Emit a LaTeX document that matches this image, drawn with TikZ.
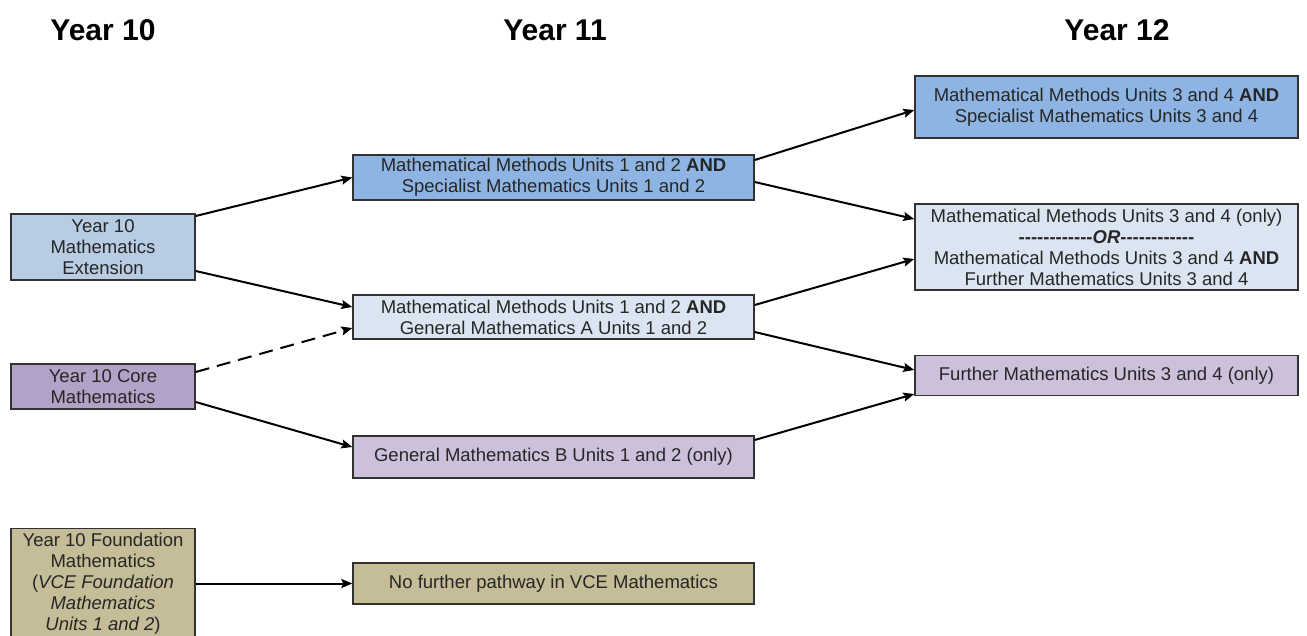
\documentclass[tikz,border=0pt]{standalone}
\usepackage{fontspec}
\setmainfont{Liberation Sans}
\usepackage{tikz}
\usetikzlibrary{positioning, arrows.meta}
\definecolor{MidBlue}{RGB}{141,180,226}
\definecolor{PaleBlue}{RGB}{184,204,228}
\definecolor{IceBlue}{RGB}{219,229,241}
\definecolor{CorePurple}{RGB}{179,162,199}
\definecolor{PaleLilac}{RGB}{204,192,218}
\definecolor{Khaki}{RGB}{196,189,151}
\definecolor{EdgeGray}{RGB}{50,50,50}
\tikzstyle{course} = [rectangle, draw=EdgeGray, line width=1.4pt, align=center, inner sep=0pt, text=black!85, font=\fontsize{18.5}{21}\selectfont]
\tikzstyle{leftbox} = [course, minimum width=184pt]
\tikzstyle{midbox} = [course, minimum width=401pt]
\tikzstyle{rightbox} = [course, minimum width=383pt]
\tikzstyle{yearhead} = [font=\fontsize{30}{36}\selectfont\bfseries]
\tikzstyle{arrow} = [line width=2pt, -{Stealth[length=11pt, width=9pt, inset=2pt]}]
\newcommand{\dashrun}{-{}-{}-{}-{}-{}-{}-{}-{}-{}-{}-{}-}

\begin{document}
\begin{tikzpicture}[x=1pt, y=-1pt]
    \clip (0,0) rectangle (1307,635);
    \fill[white] (0,0) rectangle (1307,635);

    % column headings
    \node[yearhead] (y10) at (103,30) {Year 10};
    \node[yearhead] (y11) at (555,30) {Year 11};
    \node[yearhead] (y12) at (1117,30) {Year 12};

    % Year 10
    \node[leftbox, fill=PaleBlue, minimum height=66pt] (ext) at (103,247) {Year 10\\Mathematics\\Extension};
    \node[leftbox, fill=CorePurple, minimum height=45pt] (core) at (103,386.5) {Year 10 Core\\Mathematics};
    \node[leftbox, fill=Khaki, minimum height=110pt] (found) at (103,583.5) {Year 10 Foundation\\Mathematics\\(\textit{VCE Foundation}\\\textit{Mathematics}\\\textit{Units 1 and 2})};

    % Year 11
    \node[midbox, fill=MidBlue, minimum height=45pt] (mmsm) at (553.5,177.5) {Mathematical Methods Units 1 and 2 \textbf{AND}\\Specialist Mathematics Units 1 and 2};
    \node[midbox, fill=IceBlue, minimum height=44pt] (mmga) at (553.5,317) {Mathematical Methods Units 1 and 2 \textbf{AND}\\General Mathematics A Units 1 and 2};
    \node[midbox, fill=PaleLilac, minimum height=42pt] (genb) at (553.5,457) {General Mathematics B Units 1 and 2 (only)};
    \node[midbox, fill=Khaki, minimum height=41pt] (nofurther) at (553.5,583.5) {No further pathway in VCE Mathematics};

    % Year 12
    \node[rightbox, fill=MidBlue, minimum height=62pt] (mmss) at (1106.5,107) {Mathematical Methods Units 3 and 4 \textbf{AND}\\Specialist Mathematics Units 3 and 4};
    \node[rightbox, fill=IceBlue, minimum height=86pt] (mmor) at (1106.5,247) {Mathematical Methods Units 3 and 4 (only)\\\textbf{\dashrun\textit{OR}\dashrun}\\Mathematical Methods Units 3 and 4 \textbf{AND}\\Further Mathematics Units 3 and 4};
    \node[rightbox, fill=PaleLilac, minimum height=40pt] (fmonly) at (1106.5,375.5) {Further Mathematics Units 3 and 4 (only)};

    % pathways
    \draw[arrow] ([yshift=31pt]ext.east) -- (mmsm.west);
    \draw[arrow] ([yshift=-24pt]ext.east) -- ([yshift=10pt]mmga.west);
    \draw[arrow, dash pattern=on 14pt off 8pt] ([yshift=14.5pt]core.east) -- ([yshift=-11pt]mmga.west);
    \draw[arrow] ([yshift=-15.5pt]core.east) -- ([yshift=10pt]genb.west);
    \draw[arrow] (found.east) -- (nofurther.west);
    \draw[arrow] ([yshift=17.5pt]mmsm.east) -- ([yshift=-3pt]mmss.west);
    \draw[arrow] ([yshift=-4.5pt]mmsm.east) -- ([yshift=28pt]mmor.west);
    \draw[arrow] ([yshift=12pt]mmga.east) -- ([yshift=-12pt]mmor.west);
    \draw[arrow] ([yshift=-15pt]mmga.east) -- ([yshift=5.5pt]fmonly.west);
    \draw[arrow] ([yshift=17pt]genb.east) -- ([yshift=-18.5pt]fmonly.west);
\end{tikzpicture}
\end{document}
